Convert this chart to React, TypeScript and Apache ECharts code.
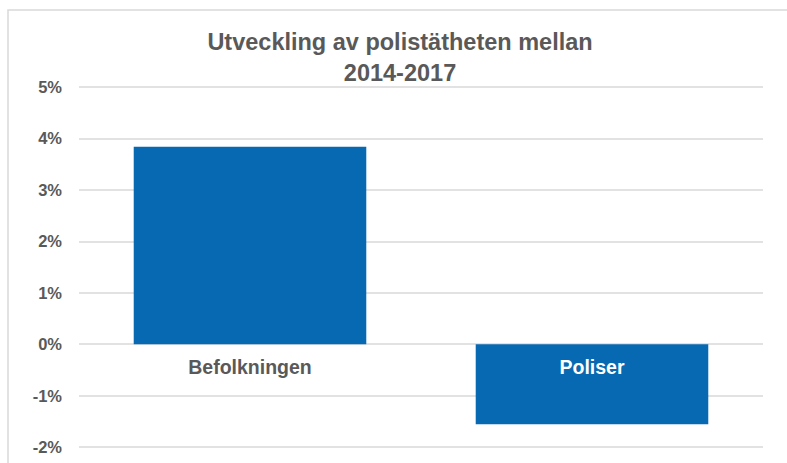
import React, { useEffect, useRef } from "react";
import * as echarts from "echarts";

const categories = ["Befolkningen", "Poliser"];
const values = [3.84, -1.56];
const titleLines = ["Utveckling av polistätheten mellan", "2014-2017"];
const yMin = -2;
const yMax = 5;
const yStep = 1;

const GRID_TOP = 87;
const GRID_BOTTOM = 16;
const HEIGHT = 463;

export default function App() {
  const ref = useRef<HTMLDivElement>(null);
  useEffect(() => {
    if (!ref.current) return;
    const chart = echarts.init(ref.current, undefined, { renderer: "svg" });
    const plotH = HEIGHT - GRID_TOP - GRID_BOTTOM;
    const zeroOffset = -((0 - yMin) / (yMax - yMin)) * plotH;
    chart.setOption({
      animation: false,
      backgroundColor: "#ffffff",
      title: {
        text: titleLines.join("\n"),
        left: 395,
        top: 22,
        textAlign: "center",
        textStyle: {
          fontFamily: "Liberation Sans, Arial, sans-serif",
          fontSize: 23.5,
          fontWeight: "bold",
          color: "#595959",
          lineHeight: 30.5,
        },
      },
      graphic: [
        {
          type: "rect",
          shape: { x: 8, y: 10, width: 800, height: 500 },
          style: { fill: "none", stroke: "#d9d9d9", lineWidth: 1.5 },
          silent: true,
          z: -10,
        },
      ],
      grid: {
        left: 79,
        right: 24,
        top: GRID_TOP,
        bottom: GRID_BOTTOM,
        containLabel: false,
        outerBoundsMode: "none",
      },
      xAxis: {
        type: "category",
        data: categories,
        offset: zeroOffset,
        axisLine: { show: false, onZero: false },
        axisTick: { show: false },
        axisLabel: {
          margin: 13,
          fontFamily: "Liberation Sans, Arial, sans-serif",
          fontSize: 19.5,
          fontWeight: "bold",
          color: (_v: string, i: number) => (i === 1 ? "#ffffff" : "#595959"),
        },
        z: 10,
      },
      yAxis: {
        type: "value",
        min: yMin,
        max: yMax,
        interval: yStep,
        axisLine: { show: false },
        axisTick: { show: false },
        splitLine: { lineStyle: { color: "#d9d9d9", width: 1.5 } },
        axisLabel: {
          formatter: "{value}%",
          margin: 17,
          fontFamily: "Liberation Sans, Arial, sans-serif",
          fontSize: 16.5,
          fontWeight: "bold",
          color: "#595959",
        },
      },
      series: [
        {
          type: "bar",
          data: values,
          barWidth: "68%",
          itemStyle: { color: "#0669B2" },
          z: 2,
        },
      ],
    });
    return () => chart.dispose();
  }, []);
  return (
    <div
      ref={ref}
      style={{ position: "absolute", left: 0, top: 0, width: 787, height: 463 }}
    />
  );
}
